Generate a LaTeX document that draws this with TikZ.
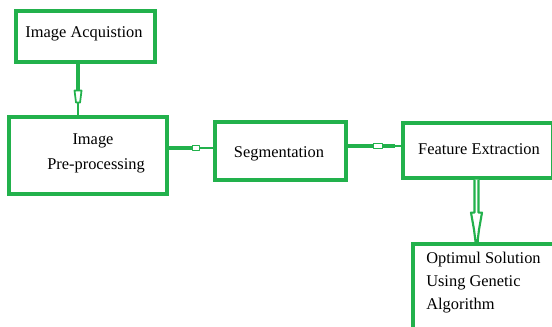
\documentclass[tikz,border=0pt]{standalone}
\usepackage{fontspec}
\setmainfont{Liberation Serif}
\usetikzlibrary{calc}
\definecolor{pgreen}{RGB}{34,177,76}
\tikzset{
  box/.style={draw=pgreen, line width=2.4pt, fill=white, inner sep=0pt},
  txt/.style={font=\fontsize{12.3}{14}\selectfont, text=black, inner sep=0pt},
  heavy/.style={draw=pgreen, line width=3.6pt},
  thinseg/.style={draw=pgreen, line width=1.8pt},
  outl/.style={draw=pgreen, fill=white, line width=1.3pt, line join=round},
  bigoutl/.style={draw=pgreen, fill=white, line width=1.6pt, line join=round},
}
\begin{document}
\begin{tikzpicture}[x=0.75pt,y=-0.75pt]
\clip (0,0) rectangle (552,327);
\fill[white] (0,0) rectangle (552,327);
% boxes
\node[box, minimum width=104.25pt, minimum height=38.25pt] (acq) at (85.5,36.5) {};
\node[box, minimum width=118.5pt, minimum height=57.75pt] (pre) at (88,155.5) {};
\node[box, minimum width=98.25pt, minimum height=43.5pt] (seg) at (280.5,151) {};
\node[box, minimum width=112.5pt, minimum height=41.25pt] (feat) at (478,150.5) {};
\node[box, minimum width=117.75pt, minimum height=72pt] (opt) at (491.5,292) {};
% texts
\node[txt] (tacq) at (84,34) {Image Acquistion};
\node[txt] (tpre1) at (93,141) {Image};
\node[txt] (tpre2) at (96,166) {Pre-processing};
\node[txt] (tseg) at (279,154) {Segmentation};
\node[txt] (tfeat) at (479,149) {Feature Extraction};
\node[txt, anchor=west] (topt1) at (426,260) {Optimul Solution};
\node[txt, anchor=west] (topt2) at (426,283) {Using Genetic};
\node[txt, anchor=west] (topt3) at (426,306) {Algorithm};
% connector 1: acquisition -> pre-processing
\coordinate (a1) at ([xshift=-5.6pt]acq.south);
\coordinate (a2) at (a1 |- pre.north);
\draw[heavy] (a1) -- ++(0,27) coordinate (a1m);
\draw[thinseg] ($(a1m)+(0,12)$) -- (a2);
\draw[outl] (a1m) ++(-3.5,0) -- ++(7,0) -- ++(-1.5,12) -- ++(-4,0) -- cycle;
% connector 2: pre-processing -> segmentation
\coordinate (b2) at ([yshift=2.25pt]seg.west);
\coordinate (b1) at (b2 -| pre.east);
\draw[heavy] (b1) -- ++(24,0) coordinate (b1m);
\draw[thinseg] ($(b1m)+(7,0)$) -- (b2);
\draw[outl] (b1m) ++(0,-2.5) rectangle ++(7,5);
% connector 3: segmentation -> feature extraction
\coordinate (c2) at ([yshift=3.4pt]feat.west);
\coordinate (c1) at (c2 -| seg.east);
\draw[heavy] (c1) -- ++(26,0) coordinate (c1m);
\draw[heavy] ($(c1m)+(9,0)$) -- ++(12,0) coordinate (c1n);
\draw[thinseg] (c1n) -- (c2);
\draw[outl] (c1m) ++(0,-2.5) rectangle ++(9,5);
% connector 4: feature extraction -> optimul solution
\coordinate (d1) at (feat.south);
\coordinate (d2) at (d1 |- opt.north);
\draw[thinseg] (d1) ++(0,32) coordinate (d1m) -- (d2);
\draw[bigoutl] (d1) ++(-3.5,0) -- ++(0,33) -- ++(-3.5,0) -- ++(3,17) -- ++(1.5,12)
  -- ++(2,0) -- ++(1.5,-12) -- ++(3,-17) -- ++(-3.5,0) -- ++(0,-33);
\end{tikzpicture}
\end{document}
